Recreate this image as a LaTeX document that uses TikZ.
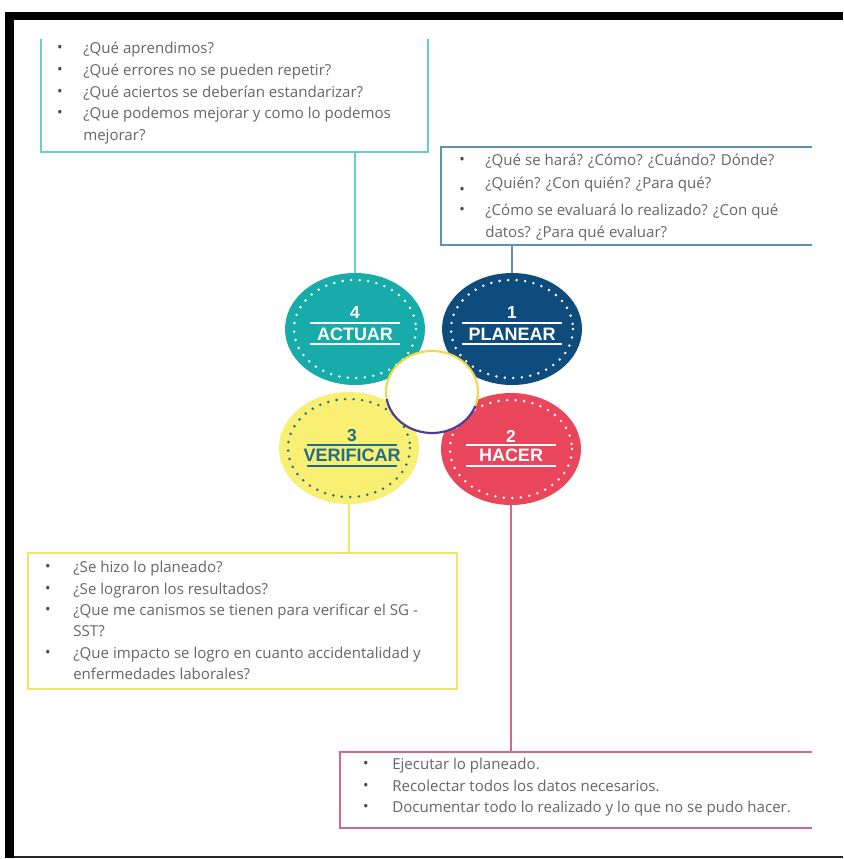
\documentclass[tikz,border=0pt]{standalone}
\usepackage{fontspec}
\setmainfont{Open Sans}
\newfontfamily\lblfont{Liberation Sans}
\usetikzlibrary{shapes.geometric}
\definecolor{tealc}{HTML}{17ACA9}
\definecolor{bluec}{HTML}{0E4C7E}
\definecolor{yellowc}{HTML}{F8EF73}
\definecolor{redc}{HTML}{E9465C}
\definecolor{tealbox}{HTML}{6ACFC9}
\definecolor{bluebox}{HTML}{6090B2}
\definecolor{yellowbox}{HTML}{F2E36A}
\definecolor{pinkbox}{HTML}{D4688C}
\definecolor{txtgray}{HTML}{666666}
\definecolor{verdark}{HTML}{1F6C8C}
\definecolor{ringy}{HTML}{F0D84A}
\definecolor{ringp}{HTML}{4A3C9E}
\begin{document}
\begin{tikzpicture}[x=0.75pt,y=-0.75pt,
  txt/.style={anchor=west,inner sep=0pt,text=txtgray,font=\fontsize{11.3}{13}\selectfont,text height=1.5ex,text depth=0.3ex},
  bul/.style={anchor=center,inner sep=0pt,text=txtgray!70!black,font=\fontsize{11}{12}\selectfont},
  disc/.style={ellipse,minimum width=105pt,minimum height=84pt,inner sep=0pt},
  dotring/.style={line width=2.1pt,dash pattern=on 0pt off 6.4pt,line cap=round},
  num/.style={inner sep=0pt,font=\lblfont\bfseries\fontsize{13}{15}\selectfont},
  lbl/.style={inner sep=0pt,font=\lblfont\bfseries\fontsize{13.5}{15}\selectfont},
  frame/.style={line width=1.5pt},
  conn/.style={line width=1.5pt}]
\useasboundingbox (0,0) rectangle (843,859);
\fill[white] (0,0) rectangle (843,859);
% black frame
\fill[black] (5,12) rectangle (843,20);
\fill[black] (5,12) rectangle (14,858);
\fill[black!85] (14,856) rectangle (843,858);

% boxes
\draw[frame,tealbox] (41,39) -- (41,152) -- (428,152) -- (428,39);
\draw[frame,bluebox] (812,147) -- (441,147) -- (441,245) -- (812,245);
\draw[frame,yellowbox] (28,553) rectangle (457,689);
\draw[frame,pinkbox] (812,752) -- (340,752) -- (340,828) -- (812,828);
\coordinate (actbot) at (355,152);
\coordinate (planbot) at (512,245);
\coordinate (vertop) at (349,553);
\coordinate (hactop) at (511,752);

% circles
\node[disc,fill=tealc] (actuar) at (355,329) {};
\node[disc,fill=bluec] (planear) at (512,329) {};
\node[disc,fill=yellowc] (verificar) at (349,448) {};
\node[disc,fill=redc] (hacer) at (511,449) {};

% connectors
\draw[conn,tealbox] (actbot) -- (actuar.north);
\draw[conn,bluebox] (planbot) -- (planear.north);
\draw[conn,yellowbox] (verificar.south) -- (vertop);
\draw[conn,pinkbox] (hacer.south) -- (hactop);

% dotted rings
\draw[dotring,white] (actuar.center) ellipse [x radius=61, y radius=49];
\draw[dotring,white] (planear.center) ellipse [x radius=61, y radius=49];
\draw[dotring,verdark] (verificar.center) ellipse [x radius=61, y radius=49];
\draw[dotring,white] (hacer.center) ellipse [x radius=61, y radius=49];

% circle texts
\node[num,text=white] (n4) at (355,313) {4};
\node[lbl,text=white] (l4) at (355,334) {ACTUAR};
\draw[white,line width=1pt] (310,323) -- (400,323) (310,344) -- (400,344);
\node[num,text=white] (n1) at (512,313) {1};
\node[lbl,text=white] (l1) at (512,334) {PLANEAR};
\draw[white,line width=1pt] (462,323) -- (562,323) (462,344) -- (562,344);
\node[num,text=verdark] (n3) at (352,436) {3};
\node[lbl,text=verdark] (l3) at (352,455) {VERIFICAR};
\draw[verdark,line width=1pt] (307,445) -- (397,445) (307,466) -- (397,466);
\node[num,text=white] (n2) at (511,436) {2};
\node[lbl,text=white] (l2) at (511,455) {HACER};
\draw[white,line width=1pt] (466,445) -- (556,445) (466,466) -- (556,466);

% centre ring
\fill[white] (432,392) ellipse [x radius=46, y radius=41];
\draw[ringy,line width=1.6pt] (432,392) ++(170:46 and 41) arc[start angle=170,end angle=380,x radius=46,y radius=41];
\draw[ringp,line width=1.6pt] (432,392) ++(20:46 and 41) arc[start angle=20,end angle=170,x radius=46,y radius=41];

% ACTUAR box text
\node[bul] (ab1) at (60,49) {•};  \node[txt] (at1) at (83,49) {¿Qué aprendimos?};
\node[bul] (ab2) at (60,71) {•};  \node[txt] (at2) at (83,71) {¿Qué errores no se pueden repetir?};
\node[bul] (ab3) at (60,93) {•};  \node[txt] (at3) at (83,93) {¿Qué aciertos se deberían estandarizar?};
\node[bul] (ab4) at (60,114) {•}; \node[txt] (at4) at (83,114) {¿Que podemos mejorar y como lo podemos};
\node[txt] (at5) at (83,136) {mejorar?};

% PLANEAR box text
\node[bul] (pb1) at (462,161) {•}; \node[txt] (pt1) at (485,161) {¿Qué se hará? ¿Cómo? ¿Cuándo? Dónde?};
\node[bul] (pb2) at (462,191) {•}; \node[txt] (pt2) at (485,184) {¿Quién? ¿Con quién? ¿Para qué?};
\node[bul] (pb3) at (462,211) {•}; \node[txt] (pt3) at (485,211) {¿Cómo se evaluará lo realizado? ¿Con qué};
\node[txt] (pt4) at (485,233) {datos? ¿Para qué evaluar?};

% VERIFICAR box text
\node[bul] (vb1) at (48,568) {•}; \node[txt] (vt1) at (73,568) {¿Se hizo lo planeado?};
\node[bul] (vb2) at (48,590) {•}; \node[txt] (vt2) at (73,590) {¿Se lograron los resultados?};
\node[bul] (vb3) at (48,611) {•}; \node[txt] (vt3) at (73,611) {¿Que me canismos se tienen para verificar el SG -};
\node[txt] (vt4) at (73,632) {SST?};
\node[bul] (vb5) at (48,654) {•}; \node[txt] (vt5) at (73,654) {¿Que impacto se logro en cuanto accidentalidad y};
\node[txt] (vt6) at (73,675) {enfermedades laborales?};

% HACER box text
\node[bul] (hb1) at (366,765) {•}; \node[txt] (ht1) at (392,765) {Ejecutar lo planeado.};
\node[bul] (hb2) at (366,787) {•}; \node[txt] (ht2) at (392,787) {Recolectar todos los datos necesarios.};
\node[bul] (hb3) at (366,808) {•}; \node[txt] (ht3) at (392,808) {Documentar todo lo realizado y lo que no se pudo hacer.};
\end{tikzpicture}
\end{document}
